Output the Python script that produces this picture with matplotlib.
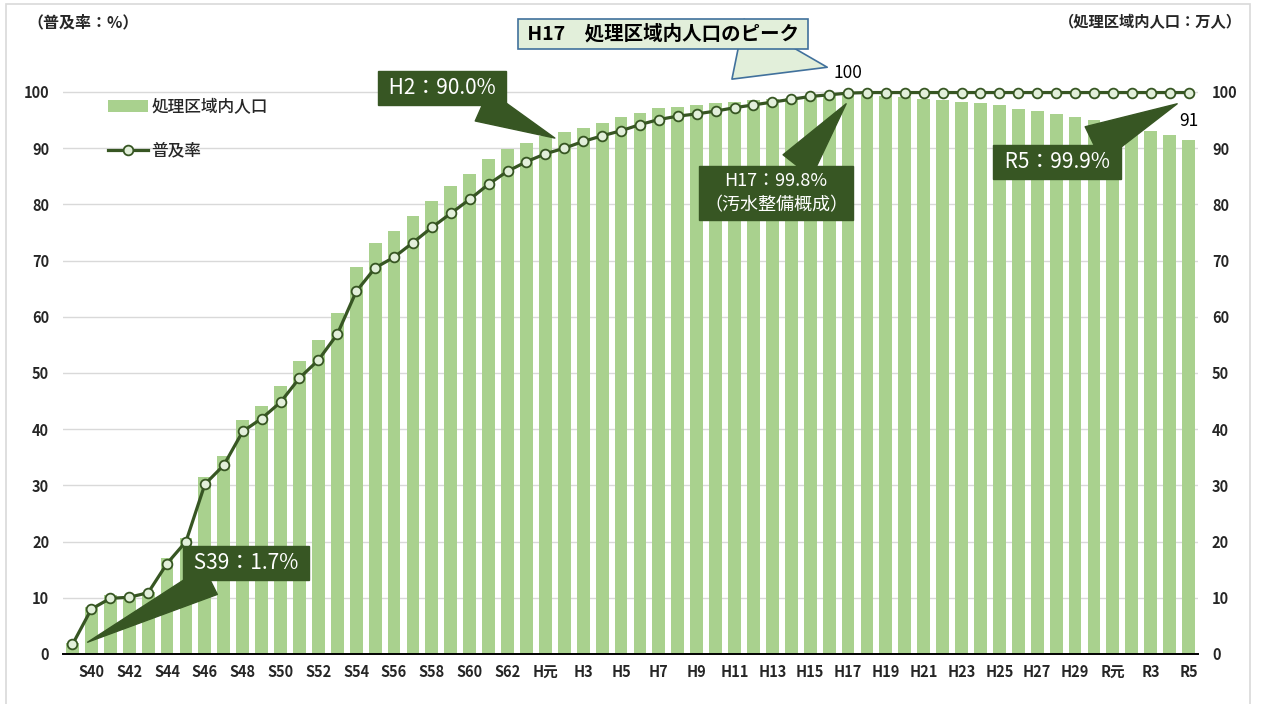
import numpy as np
import matplotlib
matplotlib.use('Agg')
import matplotlib.pyplot as plt
from matplotlib.patches import Rectangle

plt.rcParams['font.family'] = ['Noto Sans CJK JP', 'DejaVu Sans']

# x categories: S39 (1964) ... R5 (2023)
showa = ['S%d' % y for y in range(39, 64)]
heisei = ['H元'] + ['H%d' % y for y in range(2, 31)]
reiwa = ['R元'] + ['R%d' % y for y in range(2, 6)]
labels = showa + heisei + reiwa

# 普及率 (%)
rate = [1.7, 8.0, 9.9, 10.1, 10.9, 16.1, 20.0, 30.2, 33.6, 39.6,
        41.9, 44.8, 49.1, 52.3, 56.9, 64.5, 68.7, 70.6, 73.2, 75.9,
        78.4, 80.9, 83.6, 85.9, 87.6, 89.0, 90.0, 91.2, 92.2, 93.1,
        94.2, 95.1, 95.7, 96.1, 96.6, 97.2, 97.7, 98.2, 98.7, 99.2,
        99.5, 99.8, 99.9, 99.9, 99.9, 99.9, 99.9, 99.9, 99.9, 99.9,
        99.9, 99.9, 99.9, 99.9, 99.9, 99.9, 99.9, 99.9, 99.9, 99.9]

# 処理区域内人口 (万人)
pop = [2.0, 8.4, 10.5, 10.2, 11.1, 17.1, 20.6, 31.5, 35.2, 41.6,
       44.1, 47.6, 52.1, 55.8, 60.6, 68.9, 73.1, 75.3, 77.9, 80.6,
       83.2, 85.4, 88.0, 89.8, 91.0, 92.2, 92.9, 93.6, 94.5, 95.5,
       96.2, 97.1, 97.3, 97.7, 98.0, 98.3, 98.5, 98.7, 99.0, 99.2,
       99.4, 100.0, 99.5, 99.3, 99.1, 98.8, 98.6, 98.3, 98.0, 97.6,
       97.0, 96.6, 96.1, 95.5, 95.0, 94.5, 93.8, 93.1, 92.3, 91.4]

dark = '#375623'
bar_c = '#a9d18e'
txt_c = '#262626'
W, H = 1262, 704

fig = plt.figure(figsize=(W / 100, H / 100), dpi=100)
ax = fig.add_axes([63 / W, 1 - 654 / H, (1198 - 63) / W, (654 - 69.5) / H])

x = np.arange(len(labels))
bars = ax.bar(x, pop, width=0.68, color=bar_c, label='処理区域内人口', zorder=2)
line, = ax.plot(x, rate, color=dark, lw=2.3, marker='o', ms=7, mfc='#e2efda',
                mec=dark, mew=1.3, label='普及率', zorder=3, clip_on=False)

ax.set_xlim(-0.5, len(x) - 0.5)
ax.set_ylim(0, 104)
ax.set_yticks(range(0, 101, 10))
ax.grid(axis='y', color='#d9d9d9', lw=1)
ax.set_axisbelow(True)
for s in ['top', 'right', 'left']:
    ax.spines[s].set_visible(False)
ax.spines['bottom'].set_color('black')
ax.spines['bottom'].set_linewidth(1.4)
ax.set_xticks(x[1::2])
ax.set_xticklabels(labels[1::2])
ax.tick_params(axis='both', length=0, labelsize=10.5, colors=txt_c)
ax.tick_params(axis='y', pad=10)
ax.tick_params(axis='x', pad=7)
for t in ax.get_xticklabels() + ax.get_yticklabels():
    t.set_fontweight('bold')

ax2 = ax.twinx()
ax2.set_ylim(ax.get_ylim())
ax2.set_yticks(range(0, 101, 10))
for s in ax2.spines.values():
    s.set_visible(False)
ax2.tick_params(axis='y', length=0, labelsize=10.5, colors=txt_c, pad=10)
for t in ax2.get_yticklabels():
    t.set_fontweight('bold')

leg = ax.legend([bars, line], ['処理区域内人口', '普及率'], loc='upper left',
                bbox_to_anchor=(108 / W, 1 - 98 / H),
                bbox_transform=fig.transFigure, frameon=False, fontsize=12,
                handlelength=2.4, handletextpad=0.2, labelspacing=1.55,
                borderpad=0, borderaxespad=0)
for t in leg.get_texts():
    t.set_color(txt_c)
    t.set_fontweight('medium')

# unit labels
fig.text(27 / W, 1 - 22 / H, '（普及率：%）', fontsize=11.5, va='center',
         ha='left', color=txt_c, fontweight='bold')
fig.text(1242 / W, 1 - 22 / H, '（処理区域内人口：万人）', fontsize=11,
         va='center', ha='right', color=txt_c, fontweight='bold')

# callouts
def callout(text, xy, txt_px, size, tw=1.2, ls=1.2):
    ax.annotate(text, xy=xy, xycoords='data',
                xytext=(txt_px[0], H - txt_px[1]), textcoords='figure pixels',
                ha='center', va='center', color='white', fontsize=size,
                linespacing=ls,
                bbox=dict(boxstyle='square,pad=0.3', fc=dark, ec=dark),
                arrowprops=dict(arrowstyle='wedge,tail_width=%s' % tw,
                                fc=dark, ec=dark, mutation_scale=20,
                                shrinkA=0, shrinkB=0),
                annotation_clip=False, zorder=5)

callout(' S39：%.1f%% ' % rate[0], (0.8, 2.1), (246, 563), 15, 1.1)
callout(' H2：%.1f%% ' % rate[26], (25.5, 91.8), (442, 88), 15, 1.2)
callout(' R5：%.1f%% ' % rate[-1], (58.4, 97.9), (1057, 162), 15, 1.4)
callout('H17：%.1f%%\n（汚水整備概成）' % rate[41], (40.9, 97.9), (776, 193),
        13, 1.3, 1.45)

ax.annotate(' H17　処理区域内人口のピーク ', xy=(39.9, 104.4), xycoords='data',
            xytext=(663, H - 34), textcoords='figure pixels',
            ha='center', va='center', color='black', fontsize=14,
            fontweight='bold',
            bbox=dict(boxstyle='square,pad=0.25', fc='#e2efda', ec='#41719c',
                      lw=1.2),
            arrowprops=dict(arrowstyle='wedge,tail_width=2.2', fc='#e2efda',
                            ec='#41719c', lw=1.2, mutation_scale=20,
                            shrinkA=0, shrinkB=0),
            annotation_clip=False, zorder=5)

peak = int(np.argmax(pop))
ax.text(peak, pop[peak] + 3.4, '%.0f' % pop[peak], ha='center', va='center',
        fontsize=12.5, color='black', clip_on=False)
ax.text(x[-1], pop[-1] + 3.5, '%.0f' % pop[-1], ha='center', va='center',
        fontsize=12.5, color='black', clip_on=False)

fig.patches.append(Rectangle((6 / W, -0.01), (1250 - 6) / W, 1.01 - 4 / H,
                             transform=fig.transFigure, fill=False,
                             ec='#d9d9d9', lw=1.2))

fig.savefig('out.png', dpi=100)
